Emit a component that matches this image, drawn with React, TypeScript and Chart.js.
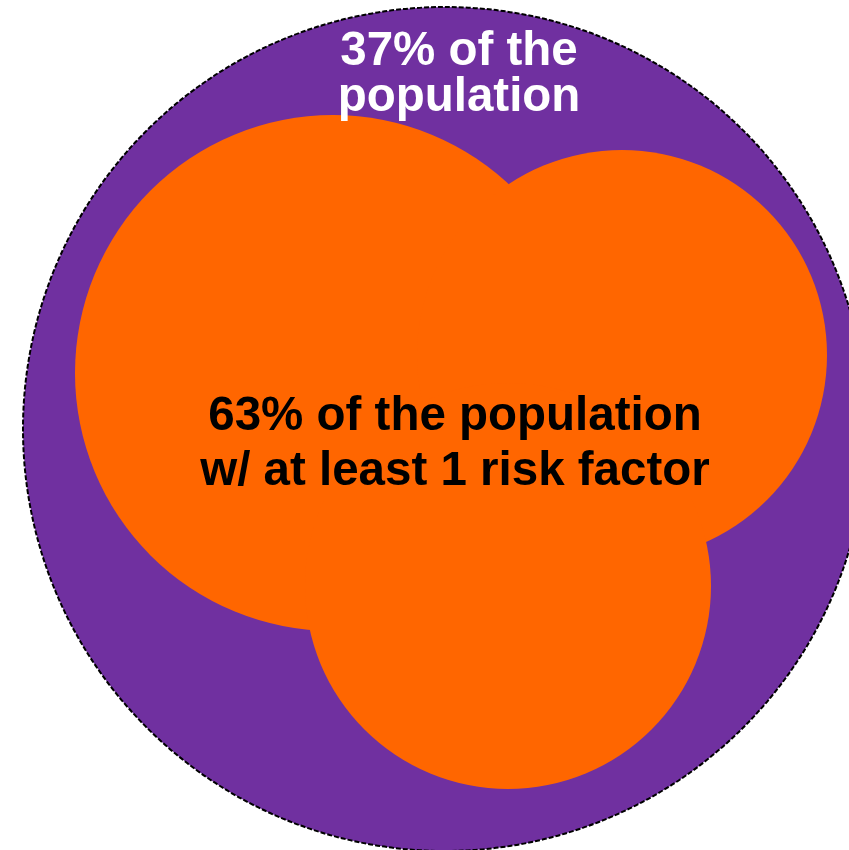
import React, { useEffect, useRef } from "react";
import { Chart, registerables } from "chart.js";

Chart.register(...registerables);

// Outer circle: whole population
const populationX = [445];
const populationY = [429];
const populationR = [422];

// Inner circles: risk factors
const riskX = [333, 622, 508];
const riskY = [373, 355, 586];
const riskR = [258, 205, 203];

// Labels
const outerLines = ["37% of the", "population"];
const outerAnchor = [459, 65];
const innerLines = ["63% of the population", "w/ at least 1 risk factor"];
const innerAnchor = [455, 430];

const PURPLE = "#7030A0";
const ORANGE = "#FF6600";

const W = 849;
const H = 850;

const overlayPlugin = {
  id: "overlay",
  afterDatasetsDraw(chart: any) {
    const ctx = chart.ctx;
    const xs = chart.scales.x;
    const ys = chart.scales.y;
    const meta = chart.getDatasetMeta(1);
    const el = meta.data[0];
    ctx.save();
    ctx.beginPath();
    ctx.arc(el.x, el.y, el.options.radius, 0, Math.PI * 2);
    ctx.setLineDash([5, 2]);
    ctx.lineWidth = 2;
    ctx.strokeStyle = "#000000";
    ctx.stroke();
    ctx.setLineDash([]);

    ctx.textAlign = "center";
    ctx.textBaseline = "alphabetic";
    ctx.font = "bold 47.5px 'Liberation Sans', Arial, sans-serif";
    ctx.fillStyle = "#FFFFFF";
    outerLines.forEach((t, i) => {
      ctx.fillText(t, xs.getPixelForValue(outerAnchor[0]), ys.getPixelForValue(outerAnchor[1] + i * 46));
    });
    ctx.fillStyle = "#000000";
    innerLines.forEach((t, i) => {
      ctx.fillText(t, xs.getPixelForValue(innerAnchor[0]), ys.getPixelForValue(innerAnchor[1] + i * 55));
    });
    ctx.restore();
  },
};

export default function App() {
  const ref = useRef<HTMLCanvasElement | null>(null);
  useEffect(() => {
    if (!ref.current) return;
    const chart = new Chart(ref.current, {
      type: "bubble",
      data: {
        datasets: [
          {
            label: "At least 1 risk factor",
            data: riskX.map((x, i) => ({ x, y: riskY[i], r: riskR[i] })),
            backgroundColor: ORANGE,
            borderWidth: 0,
            hoverRadius: 0,
            clip: false as any,
          },
          {
            label: "Population",
            data: populationX.map((x, i) => ({ x, y: populationY[i], r: populationR[i] })),
            backgroundColor: PURPLE,
            borderWidth: 0,
            hoverRadius: 0,
            clip: false as any,
          },
        ],
      },
      options: {
        responsive: false,
        animation: false,
        events: [],
        layout: { padding: 0, autoPadding: false },
        plugins: {
          legend: { display: false },
          tooltip: { enabled: false },
        },
        scales: {
          x: { type: "linear", min: 0, max: W, display: false },
          y: { type: "linear", min: 0, max: H, reverse: true, display: false },
        },
      },
      plugins: [overlayPlugin],
    });
    return () => chart.destroy();
  }, []);
  return (
    <div style={{ position: "fixed", left: 0, top: 0, width: W, height: H, background: "#fff" }}>
      <canvas ref={ref} width={W} height={H} style={{ display: "block" }} />
    </div>
  );
}
